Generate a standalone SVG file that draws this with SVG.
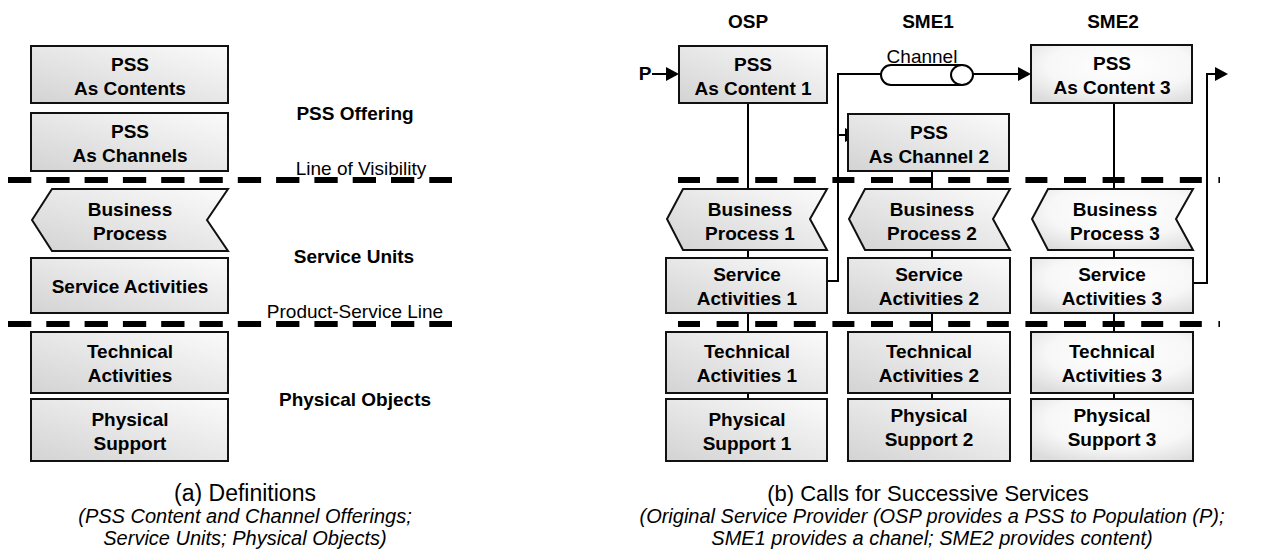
<svg xmlns="http://www.w3.org/2000/svg" width="1265" height="556" viewBox="0 0 1265 556">
<defs>
<linearGradient id="gA" x1="1" y1="0" x2="0" y2="1">
<stop offset="0" stop-color="#fbfbfb"/><stop offset="1" stop-color="#d3d3d3"/>
</linearGradient>
<radialGradient id="gB" cx="0.55" cy="0.35" r="0.75">
<stop offset="0" stop-color="#ffffff"/><stop offset="0.6" stop-color="#f7f7f7"/><stop offset="1" stop-color="#dcdcdc"/>
</radialGradient>
<style>
text{font-family:"Liberation Sans",Arial,sans-serif;fill:#000}
.b{font-weight:bold;font-size:19px;text-anchor:middle}
.r{font-size:19px;text-anchor:middle}
.t{font-size:22px;text-anchor:middle}
.i{font-size:20px;font-style:italic;text-anchor:middle}
.box{fill:url(#gA);stroke:#111;stroke-width:2}
.box3{fill:url(#gB);stroke:#111;stroke-width:2}
.dash{stroke:#000;stroke-width:6;fill:none}
.ln{stroke:#000;stroke-width:2;fill:none}
.ah{fill:#000}
</style>
</defs>

<!-- Left panel -->
<g id="left-dashes">
<line class="dash" x1="8" y1="180" x2="452" y2="180" stroke-dasharray="23.3 15"/>
<line class="dash" x1="8" y1="324" x2="452" y2="324" stroke-dasharray="23.3 15"/>
</g>
<g id="a-pss-contents"><rect class="box" x="31" y="46" width="197" height="57"/><text class="b" x="130" y="70.5">PSS</text><text class="b" x="130" y="94.5">As Contents</text></g>
<g id="a-pss-channels"><rect class="box" x="31" y="113" width="197" height="58"/><text class="b" x="130" y="138">PSS</text><text class="b" x="130" y="162">As Channels</text></g>
<g id="a-business"><polygon class="box" points="32,220 52,189 228,189 207,220 228,251 52,251"/><text class="b" x="130" y="216">Business</text><text class="b" x="130" y="240">Process</text></g>
<g id="a-service"><rect class="box" x="31" y="258" width="197" height="55"/><text class="b" x="130" y="292.5">Service Activities</text></g>
<g id="a-technical"><rect class="box" x="31" y="332" width="197" height="61"/><text class="b" x="130" y="358">Technical</text><text class="b" x="130" y="382">Activities</text></g>
<g id="a-physical"><rect class="box" x="31" y="399" width="197" height="62"/><text class="b" x="130" y="426">Physical</text><text class="b" x="130" y="450">Support</text></g>
<g id="a-labels">
<text class="b" x="355" y="120">PSS Offering</text>
<text class="r" x="361" y="175">Line of Visibility</text>
<text class="b" x="354" y="263">Service Units</text>
<text class="r" x="355" y="318">Product-Service Line</text>
<text class="b" x="355" y="406">Physical Objects</text>
</g>
<g id="a-caption">
<text class="t" x="245" y="501" style="font-size:23px">(a) Definitions</text>
<text class="i" x="245" y="523">(PSS Content and Channel Offerings;</text>
<text class="i" x="245" y="545">Service Units; Physical Objects)</text>
</g>

<!-- Right panel connectors -->
<g id="connectors">
<line class="ln" x1="748" y1="103" x2="748" y2="399"/>
<line class="ln" x1="932" y1="171" x2="932" y2="399"/>
<line class="ln" x1="1114" y1="103" x2="1114" y2="399"/>
<line class="ln" x1="652" y1="74" x2="667" y2="74"/>
<polygon class="ah" points="666,67 679,74 666,81"/>
<polyline class="ln" points="827,281 838,281 838,74 1019,74"/>
<polygon class="ah" points="1018,67 1031,74 1018,81"/>
<line class="ln" x1="838" y1="135" x2="846" y2="135"/>
<polygon class="ah" points="845,128 858,135 845,142"/>
<polyline class="ln" points="1193,283 1207,283 1207,74 1216,74"/>
<polygon class="ah" points="1215,67 1228,74 1215,81"/>
<line class="dash" x1="678" y1="180" x2="1220" y2="180" stroke-dasharray="22 16.6"/>
<line class="dash" x1="678" y1="324" x2="1220" y2="324" stroke-dasharray="22 16.6"/>
</g>
<g id="channel">
<path d="M891,65 H962 V85 H891 A10,10 0 0 1 891,65 Z" fill="#fff" stroke="#000" stroke-width="2"/>
<ellipse cx="962" cy="75" rx="11" ry="10" fill="#fff" stroke="#000" stroke-width="2"/>
<text class="r" x="922" y="63">Channel</text>
</g>
<g id="b-headers">
<text class="b" x="748" y="28">OSP</text>
<text class="b" x="928" y="28">SME1</text>
<text class="b" x="1113" y="28">SME2</text>
<text class="b" x="645" y="80">P</text>
</g>

<!-- OSP column -->
<g id="osp-content1"><rect class="box" x="679" y="46" width="148" height="57"/><text class="b" x="753" y="70.5">PSS</text><text class="b" x="753" y="94.5">As Content 1</text></g>
<g id="osp-bp1"><polygon class="box" points="667,219 683,189 827,189 810,219 827,250 683,250"/><text class="b" x="750" y="216">Business</text><text class="b" x="750" y="240">Process 1</text></g>
<g id="osp-sa1"><rect class="box" x="666" y="258" width="161" height="55"/><text class="b" x="747" y="281">Service</text><text class="b" x="747" y="305">Activities 1</text></g>
<g id="osp-ta1"><rect class="box" x="666" y="332" width="161" height="61"/><text class="b" x="747" y="358">Technical</text><text class="b" x="747" y="382">Activities 1</text></g>
<g id="osp-ps1"><rect class="box" x="666" y="399" width="161" height="62"/><text class="b" x="747" y="426">Physical</text><text class="b" x="747" y="450">Support 1</text></g>

<!-- SME1 column -->
<g id="sme1-channel2"><rect class="box" x="848" y="114" width="161" height="57"/><text class="b" x="929" y="138.5">PSS</text><text class="b" x="929" y="162.5">As Channel 2</text></g>
<g id="sme1-bp2"><polygon class="box" points="849,219 865,189 1010,189 993,219 1010,250 865,250"/><text class="b" x="932" y="216">Business</text><text class="b" x="932" y="240">Process 2</text></g>
<g id="sme1-sa2"><rect class="box" x="848" y="258" width="162" height="55"/><text class="b" x="929" y="281">Service</text><text class="b" x="929" y="305">Activities 2</text></g>
<g id="sme1-ta2"><rect class="box" x="848" y="332" width="162" height="61"/><text class="b" x="929" y="358">Technical</text><text class="b" x="929" y="382">Activities 2</text></g>
<g id="sme1-ps2"><rect class="box" x="848" y="399" width="162" height="62"/><text class="b" x="929" y="422">Physical</text><text class="b" x="929" y="446">Support 2</text></g>

<!-- SME2 column -->
<g id="sme2-content3"><rect class="box3" x="1031" y="45" width="161" height="58"/><text class="b" x="1112" y="70">PSS</text><text class="b" x="1112" y="94">As Content 3</text></g>
<g id="sme2-bp3"><polygon class="box3" points="1032,219 1048,189 1193,189 1176,219 1193,250 1048,250"/><text class="b" x="1115" y="216">Business</text><text class="b" x="1115" y="240">Process 3</text></g>
<g id="sme2-sa3"><rect class="box3" x="1031" y="258" width="162" height="55"/><text class="b" x="1112" y="281">Service</text><text class="b" x="1112" y="305">Activities 3</text></g>
<g id="sme2-ta3"><rect class="box3" x="1031" y="332" width="162" height="61"/><text class="b" x="1112" y="358">Technical</text><text class="b" x="1112" y="382">Activities 3</text></g>
<g id="sme2-ps3"><rect class="box3" x="1031" y="399" width="162" height="62"/><text class="b" x="1112" y="422">Physical</text><text class="b" x="1112" y="446">Support 3</text></g>

<g id="b-caption">
<text class="t" x="928" y="501">(b) Calls for Successive Services</text>
<text class="i" x="932" y="523">(Original Service Provider (OSP provides a PSS to Population (P);</text>
<text class="i" x="932" y="545">SME1 provides a chanel; SME2 provides content)</text>
</g>
</svg>
